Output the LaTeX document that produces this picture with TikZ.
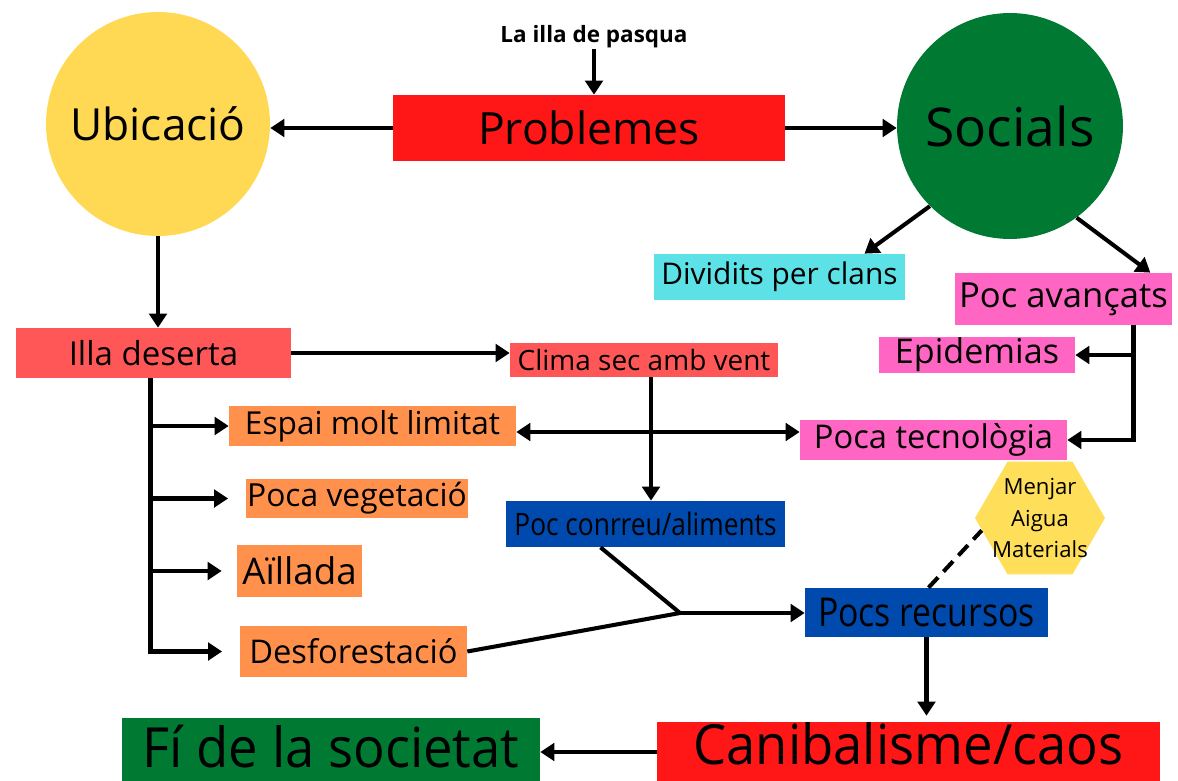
\documentclass[tikz,border=0pt]{standalone}
\usepackage{fontspec}
\setmainfont{Open Sans}
\newfontfamily\condfont[FakeStretch=0.85]{Open Sans}
\newfontfamily\bigcond[FakeStretch=0.95]{Open Sans}
\usetikzlibrary{arrows.meta,shapes.geometric,calc}
\newlength{\px}
\setlength{\px}{0.02cm}
\newcommand{\fsz}[1]{\fontsize{#1}{#1}\selectfont}
\definecolor{sunYellow}{HTML}{FFD954}
\definecolor{hexYellow}{HTML}{FFDE59}
\definecolor{darkGreen}{HTML}{007A33}
\definecolor{brightRed}{HTML}{FF1616}
\definecolor{softRed}{HTML}{FF5757}
\definecolor{skyCyan}{HTML}{5CE1E6}
\definecolor{hotPink}{HTML}{FF66C4}
\definecolor{tangerine}{HTML}{FF914D}
\definecolor{royalBlue}{HTML}{004AAD}

\begin{document}
\begin{tikzpicture}[x=1\px, y=-1\px]
  \tikzset{box/.style={rectangle, inner sep=0pt, text=black},
           blob/.style={circle, inner sep=0pt, text=black},
           link/.style={line width=2.3pt, black},
           arr/.style={link, -{Triangle[length=8pt, width=10pt]}},
           biarr/.style={link, {Triangle[length=8pt, width=10pt]}-{Triangle[length=8pt, width=10pt]}}}
  \useasboundingbox (0,0) rectangle (1178,781);
  \node[blob, fill=sunYellow, minimum size=4.48cm, font=\fsz{25.2}] (ubic) at (158,124) {Ubicació};
  \node[blob, fill=darkGreen, minimum size=4.52cm, font=\fsz{30.4}] (soc) at (1010,126) {Socials};
  \node[box, fill=brightRed, minimum width=7.84cm, minimum height=1.32cm, font=\fsz{25.3}] (prob) at (589,128) {Problemes};
  \node[font=\fsz{12.8}\bfseries, inner sep=0pt] (pasqua) at (594,37) {La illa de pasqua};
  \node[box, fill=skyCyan, minimum width=5.02cm, minimum height=0.92cm, font=\fsz{17}] (divid) at (779.5,277) {Dividits per clans};
  \node[box, fill=hotPink, minimum width=4.34cm, minimum height=1.04cm, font=\fsz{19.7}] (avanc) at (1063.5,299) {Poc avançats};
  \node[box, fill=hotPink, minimum width=3.92cm, minimum height=0.72cm, font=\fsz{19.4}] (epid) at (977,355) {Epidemias};
  \node[box, fill=hotPink, minimum width=5.34cm, minimum height=0.8cm, font=\fsz{18.6}] (tecn) at (933.5,440) {Poca tecnològia};
  \node[regular polygon, regular polygon sides=6, minimum size=2.6cm, inner sep=0pt, fill=hexYellow,
        label={[align=center, font=\fontsize{12.6}{18}\selectfont]center:Menjar\\Aigua\\Materials}] (hexa) at (1040,518) {};
  \node[box, fill=softRed, minimum width=5.36cm, minimum height=0.68cm, font=\fsz{15.9}] (clima) at (644,360) {Clima sec amb vent};
  \node[box, fill=softRed, minimum width=5.5cm, minimum height=1cm, font=\fsz{18.8}] (illa) at (153.5,353) {Illa deserta};
  \node[box, fill=tangerine, minimum width=5.74cm, minimum height=0.8cm, font=\fsz{18}] (espai) at (372.5,426) {Espai molt limitat};
  \node[box, fill=tangerine, minimum width=4.44cm, minimum height=0.78cm, font=\fsz{18.1}] (veget) at (357,498.5) {Poca vegetació};
  \node[box, fill=tangerine, minimum width=2.5cm, minimum height=1.04cm, font=\fsz{20.9}] (aill) at (299.5,571) {Aïllada};
  \node[box, fill=tangerine, minimum width=4.54cm, minimum height=1.02cm, font=\fsz{18.6}] (desf) at (353.5,651.5) {Desforestació};
  \node[box, fill=royalBlue, minimum width=5.58cm, minimum height=0.92cm, font=\condfont\fsz{17.6}] (conr) at (645.5,524) {Poc conrreu/aliments};
  \node[box, fill=royalBlue, minimum width=4.86cm, minimum height=0.98cm, font=\condfont\fsz{22.6}] (recur) at (926.5,612.5) {Pocs recursos};
  \node[box, fill=brightRed, minimum width=10.06cm, minimum height=1.2cm, text depth=10pt, font=\bigcond\fsz{31.5}] (canib) at (908.5,752) {Canibalisme/caos};
  \node[box, fill=darkGreen, minimum width=8.36cm, minimum height=1.28cm, text depth=4pt, font=\bigcond\fsz{31.5}] (fi) at (331,750) {Fí de la societat};

  \draw[arr] (pasqua.south) -- (pasqua.south |- prob.north);
  \draw[arr] (prob.west) -- (prob.west -| ubic.east);
  \draw[arr] (prob.east) -- (prob.east -| soc.west);
  \draw[arr] (soc.-135) -- ($(divid.north)+(85,0)$);
  \draw[arr] (soc.-54) -- ($(avanc.north east)+(-22,0)$);
  \coordinate (spine) at ($(avanc.south)+(70,0)$);
  \draw[arr] (spine) |- (tecn.east);
  \draw[arr] (spine |- epid.east) -- (epid.east);
  \draw[arr] (ubic.south) -- (ubic.south |- illa.north);
  \draw[arr] (illa.east) -- (illa.east -| clima.west);
  \coordinate (drop) at ($(clima.south)+(7,0)$);
  \draw[arr] (drop) -- (drop |- conr.north);
  \coordinate (mid) at ($(espai.east)+(0,6)$);
  \draw[biarr] (mid) -- (mid -| tecn.west);
  \coordinate (trunk) at ($(illa.south)+(-3,0)$);
  \draw[arr, shorten >=10pt] (trunk) |- (desf.west);
  \draw[arr] (trunk |- espai.west) -- (espai.west);
  \draw[arr, shorten >=10pt] (trunk |- veget.west) -- (veget.west);
  \draw[arr, shorten >=8.5pt] (trunk |- aill.west) -- (aill.west);
  \coordinate (join) at (680,613);
  \draw[link] ($(conr.south)+(-45,0)$) -- (join);
  \draw[link] (desf.east) -- (join);
  \draw[arr] (join) -- (join -| recur.west);
  \draw[arr, shorten >=3.4pt] (recur.south) -- (recur.south |- canib.north);
  \draw[arr] (canib.west) -- (canib.west -| fi.east);
  \draw[link, dash pattern=on 8pt off 4.5pt] ($(recur.north)+(2,0)$) -- (hexa.192);
\end{tikzpicture}
\end{document}
